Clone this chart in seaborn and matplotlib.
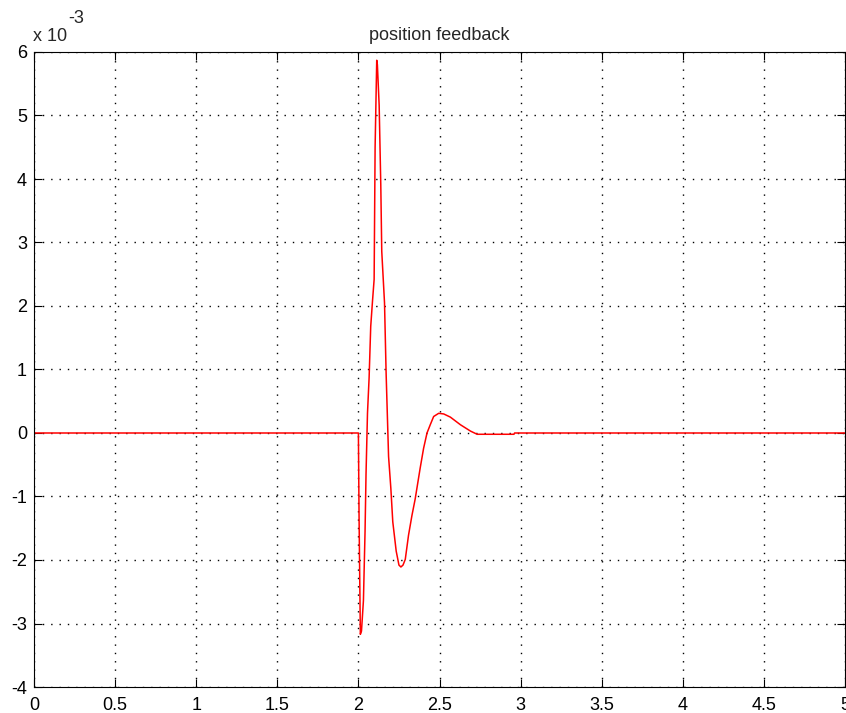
import matplotlib
matplotlib.use("Agg")
import matplotlib.pyplot as plt
import seaborn as sns
import pandas as pd
from matplotlib.ticker import FuncFormatter, FixedLocator

# ---- data (y values in units of 1e-3) ----
t_vals = [0.0, 2.000, 2.004, 2.012, 2.019, 2.031, 2.041, 2.047, 2.056, 2.066,
          2.076, 2.087, 2.097, 2.103, 2.113, 2.117, 2.128, 2.138, 2.144, 2.161,
          2.171, 2.186, 2.200, 2.212, 2.233, 2.250, 2.262, 2.275, 2.289, 2.309,
          2.330, 2.350, 2.381, 2.402, 2.423, 2.443, 2.464, 2.495, 2.526, 2.567,
          2.629, 2.691, 2.732, 2.959, 2.963, 5.0]
y_milli = [0.0, 0.0, -1.30, -3.17, -3.12, -2.64, -1.55, -0.65, 0.31, 0.87,
           1.68, 2.08, 2.42, 4.50, 5.87, 5.80, 5.16, 3.91, 2.86, 2.05,
           0.93, -0.37, -0.87, -1.40, -1.86, -2.08, -2.11, -2.08, -1.99, -1.61,
           -1.30, -1.04, -0.55, -0.24, 0.00, 0.13, 0.26, 0.31, 0.30, 0.25,
           0.13, 0.03, -0.02, -0.02, 0.0, 0.0]
x_ticks = [0, 0.5, 1, 1.5, 2, 2.5, 3, 3.5, 4, 4.5, 5]
y_ticks_milli = [-4, -3, -2, -1, 0, 1, 2, 3, 4, 5, 6]
title_text = "position feedback"
scale = 1e-3

df = pd.DataFrame({"t": t_vals, "y": [v * scale for v in y_milli]})

sns.set_style("white")
plt.rcParams["font.family"] = ["Liberation Sans", "DejaVu Sans"]
plt.rcParams["axes.unicode_minus"] = False

fig = plt.figure(figsize=(8.46, 7.13), dpi=100)
W, H = 846, 713
left, right, top, bottom = 34, 845, 52, 687
ax = fig.add_axes([left / W, 1 - bottom / H, (right - left) / W, (bottom - top) / H])

sns.lineplot(data=df, x="t", y="y", ax=ax, color="#ff0000", linewidth=1.1,
             estimator=None, sort=False)

ax.set_xlim(0, 5)
ax.set_ylim(-4 * scale, 6 * scale)
ax.xaxis.set_major_locator(FixedLocator(x_ticks))
ax.yaxis.set_major_locator(FixedLocator([v * scale for v in y_ticks_milli]))
ax.xaxis.set_major_formatter(FuncFormatter(lambda v, p: f"{v:g}"))
ax.yaxis.set_major_formatter(FuncFormatter(lambda v, p: f"{round(v / scale):g}"))

ax.set_xlabel("")
ax.set_ylabel("")

for s in ax.spines.values():
    s.set_visible(True)
    s.set_color("black")
    s.set_linewidth(0.8)

ax.tick_params(axis="both", which="major", direction="in", length=6, width=0.8,
               color="black", labelsize=13, labelcolor="black",
               top=True, right=True, bottom=True, left=True)
ax.tick_params(axis="x", pad=7)
ax.tick_params(axis="y", pad=5)

ax.grid(True, color="black", linestyle=(0, (1, 5)), linewidth=1.0)
ax.set_axisbelow(True)

ax.set_title(title_text, fontsize=13, pad=9)

# MATLAB-style exponent label
fig.text(33 / W, 1 - 41 / H, "x 10", fontsize=13, ha="left", va="baseline")
fig.text(68 / W, 1 - 23 / H, "-3", fontsize=13, ha="left", va="baseline")

fig.savefig("out.png", dpi=100, facecolor="white")
